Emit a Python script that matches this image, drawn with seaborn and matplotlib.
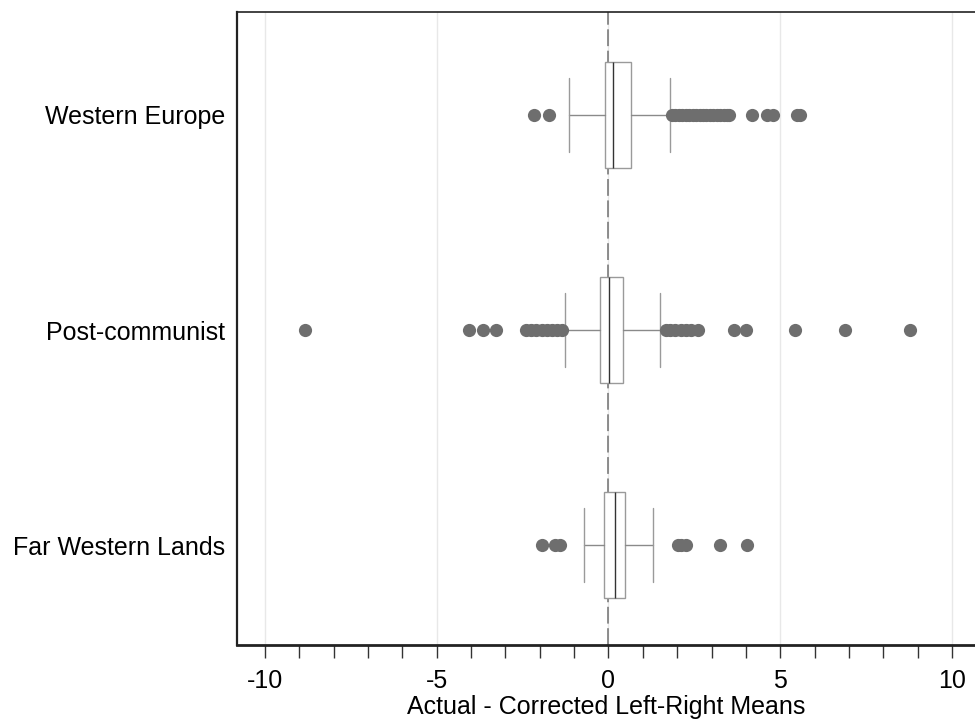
import pandas as pd
import matplotlib
matplotlib.use('Agg')
import matplotlib.pyplot as plt
from matplotlib.ticker import MultipleLocator
import seaborn as sns

#%% Data
regions = ['Western Europe', 'Post-communist', 'Far Western Lands']

medians = [0.12, 0.02, 0.18]
q1s = [-0.09, -0.26, -0.13]
q3s = [0.66, 0.41, 0.49]
whis_lo = [-1.14, -1.27, -0.70]
whis_hi = [1.80, 1.50, 1.30]

out_we = [-2.18, -1.72, 1.86, 1.95, 2.05, 2.15, 2.25, 2.35, 2.45, 2.55, 2.65,
          2.75, 2.85, 2.95, 3.05, 3.15, 3.25, 3.35, 3.45, 3.52, 4.19, 4.62,
          4.80, 5.50, 5.57]
out_pc = [-8.83, -4.05, -3.65, -3.27, -2.40, -2.25, -2.10, -1.95, -1.80,
          -1.65, -1.50, -1.35, 1.67, 1.80, 1.95, 2.10, 2.25, 2.40, 2.60,
          3.65, 4.00, 5.43, 6.89, 8.78]
out_fw = [-1.93, -1.57, -1.40, 2.03, 2.12, 2.26, 3.24, 4.04]

xlabel = 'Actual - Corrected Left-Right Means'

#%% Tables
outliers = pd.DataFrame({
    'region': [regions[0]] * len(out_we) + [regions[1]] * len(out_pc) + [regions[2]] * len(out_fw),
    'diff': out_we + out_pc + out_fw,
})
stats = [
    dict(med=m, q1=a, q3=b, whislo=lo, whishi=hi, fliers=[], label=r)
    for r, m, a, b, lo, hi in zip(regions, medians, q1s, q3s, whis_lo, whis_hi)
]

#%% Plot
sns.set_theme(style='white')
plt.rcParams['font.family'] = ['Liberation Sans', 'DejaVu Sans']

fig = plt.figure(figsize=(9.75, 7.25), dpi=100)
ax = fig.add_axes([237 / 975, 80 / 725, 738 / 975, 633 / 725])

ax.axvline(0, color='#707070', lw=1.1, ls=(0, (11, 3)), zorder=1)

sns.stripplot(data=outliers, x='diff', y='region', order=regions, orient='h',
              jitter=False, size=9.5, color='#6e6e6e', linewidth=0, ax=ax, zorder=3)

ax.bxp(stats, positions=[0, 1, 2], widths=0.49, capwidths=0.34,
       orientation='horizontal', patch_artist=True, showfliers=False,
       manage_ticks=False,
       boxprops=dict(facecolor='white', edgecolor='#9a9a9a', lw=1),
       medianprops=dict(color='#333333', lw=1),
       whiskerprops=dict(color='#8a8a8a', lw=1),
       capprops=dict(color='#9a9a9a', lw=1),
       zorder=2)

ax.set_xlim(-10.815, 10.67)
ax.set_ylim(2.465, -0.479)
ax.set_yticks([0, 1, 2])
ax.set_yticklabels(regions)
ax.set_ylabel('')
ax.set_xlabel(xlabel, fontsize=18, labelpad=1, color='black')

ax.xaxis.set_minor_locator(MultipleLocator(1))
ax.set_xticks([-10, -5, 0, 5, 10])
ax.set_xticklabels(['-10', '-5', '0', '5', '10'])
ax.tick_params(axis='x', which='both', direction='out', length=9, width=1,
               color='#333333', bottom=True, labelsize=18, pad=8.5,
               labelcolor='black')
ax.tick_params(axis='y', length=0, labelsize=18, pad=8.5, labelcolor='black')

ax.grid(axis='x', which='major', color='#e8e8e8', lw=1)
ax.set_axisbelow(True)

for s in ['left', 'bottom', 'top']:
    ax.spines[s].set_color('#222222')
ax.spines['left'].set_linewidth(1.6)
ax.spines['bottom'].set_linewidth(2)
ax.spines['top'].set_linewidth(1.2)
ax.spines['right'].set_visible(False)

fig.savefig('out.png', dpi=100)
